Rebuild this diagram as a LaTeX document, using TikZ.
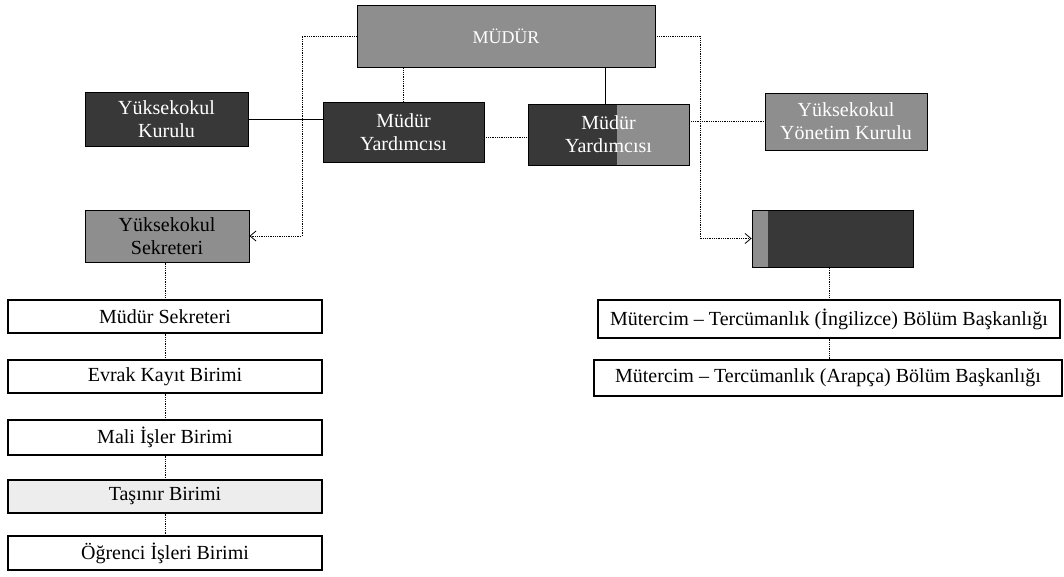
\documentclass[tikz,border=0pt]{standalone}
\usepackage{fontspec}
\setmainfont{Liberation Serif}
\usetikzlibrary{arrows.meta}
\definecolor{darkbox}{HTML}{383838}
\definecolor{greybox}{HTML}{8E8E8E}
\definecolor{lightbox}{HTML}{EDEDED}
\begin{document}
\begin{tikzpicture}[x=1pt,y=-1pt,
 box/.style={draw=black, line width=0.8pt, inner sep=0pt, align=center, font=\fontsize{20}{23}\selectfont},
 dark/.style={box, fill=darkbox, text=white},
 grey/.style={box, fill=greybox, text=white},
 unit/.style={box, fill=white, text=black, line width=1.1pt},
 conn/.style={draw=black, line width=0.8pt, densely dotted},
 solidc/.style={draw=black, line width=0.8pt},
 arr/.style={-{Straight Barb[length=6pt,width=10pt]}}
]
\useasboundingbox (0,0) rectangle (1064,577);

% top level
\node[grey, minimum width=298pt, minimum height=62pt, font=\fontsize{18}{20}\selectfont] (mudur) at (506,36) {MÜDÜR};

% second row
\node[dark, minimum width=163pt, minimum height=54pt] (kurulu) at (166.5,119) {Yüksekokul\\Kurulu};
\node[dark, minimum width=161pt, minimum height=60pt] (my1) at (403.5,132) {Müdür\\Yardımcısı};
\node[dark, minimum width=161pt, minimum height=61pt,
  path picture={\fill[greybox] ([xshift=-72pt]path picture bounding box.north east) rectangle (path picture bounding box.south east);}] (my2) at (608.5,134.5) {Müdür\\Yardımcısı};
\node[grey, minimum width=162pt, minimum height=57pt] (yonetim) at (846,121.5) {Yüksekokul\\Yönetim Kurulu};

% third row
\node[grey, text=black, minimum width=164pt, minimum height=52pt] (sek) at (167,236) {Yüksekokul\\Sekreteri};
\node[dark, minimum width=161pt, minimum height=57pt,
  path picture={\fill[greybox] (path picture bounding box.north west) rectangle ([xshift=16pt]path picture bounding box.south west);}] (rbox) at (832.5,238.5) {};

% left column
\node[unit, minimum width=314pt, minimum height=33pt] (ms) at (165,316.5) {Müdür Sekreteri};
\node[unit, minimum width=314pt, minimum height=33pt] (ev) at (165,376.5) {Evrak Kayıt Birimi};
\node[unit, minimum width=314pt, minimum height=35pt] (mali) at (165,437.5) {Mali İşler Birimi};
\node[unit, fill=lightbox, minimum width=314pt, minimum height=33pt] (tas) at (165,496.5) {Taşınır Birimi};
\node[unit, minimum width=314pt, minimum height=34pt] (og) at (165,553) {Öğrenci İşleri Birimi};

% right column
\node[unit, minimum width=462pt, minimum height=38pt] (ing) at (829,319) {Mütercim – Tercümanlık (İngilizce) Bölüm Başkanlığı};
\node[unit, minimum width=468pt, minimum height=36pt] (ara) at (828,378) {Mütercim – Tercümanlık (Arapça) Bölüm Başkanlığı};

% connectors
\coordinate (lc) at (302,236);
\coordinate (rc) at (700,238.5);
\draw[conn, arr] (mudur.west) -| (lc) -- (sek.east);
\draw[conn, arr] (mudur.east) -| (rc) -- (rbox.west);

\draw[conn] (my1.north) -- (my1.north |- mudur.south);
\draw[solidc] ([xshift=-3pt]my2.north) -- ([xshift=-3pt]my2.north |- mudur.south);

\draw[solidc] (kurulu.east) -- (kurulu.east -| my1.west);
\draw[conn] ([yshift=-5pt]my1.east) -- ([yshift=-5pt]my1.east -| my2.west);
\draw[conn] (yonetim.west -| my2.east) -- (yonetim.west);

\draw[conn] (ms.north) -- (ms.north |- sek.south);
\draw[conn] (ms.south) -- (ev.north);
\draw[conn] (ev.south) -- (mali.north);
\draw[conn] (mali.south) -- (tas.north);
\draw[conn] (tas.south) -- (og.north);

\draw[conn] (ing.north) -- (ing.north |- rbox.south);
\draw[conn] (ing.south) -- (ing.south |- ara.north);
\end{tikzpicture}
\end{document}
